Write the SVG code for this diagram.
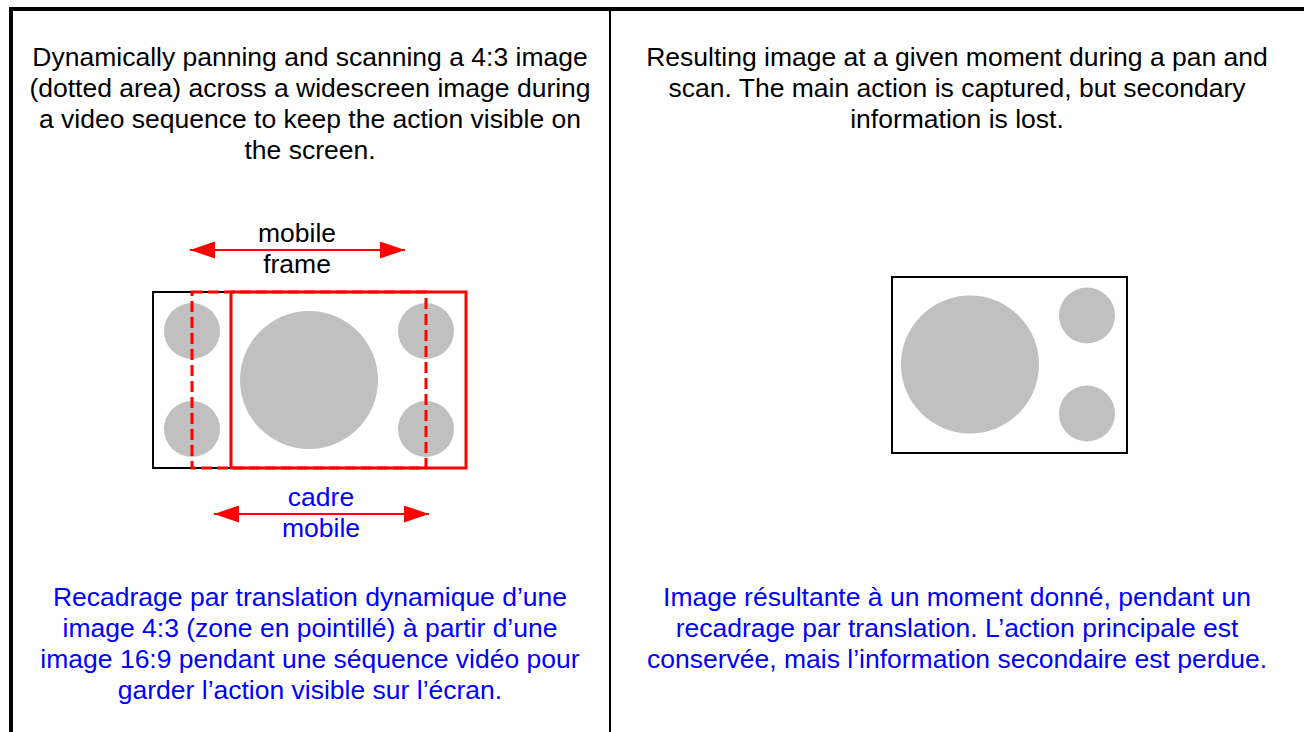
<svg xmlns="http://www.w3.org/2000/svg" width="1304" height="732" viewBox="0 0 1304 732">
<style>
text{font-family:"Liberation Sans",Arial,sans-serif;font-size:26.5px;text-anchor:middle}
.k{fill:#000}
.b{fill:#0000ff}
.circ{fill:#c0c0c0}
.frame{fill:none;stroke:#000;stroke-width:2}
.red{fill:none;stroke:#ff0000;stroke-width:3}
.dash{stroke-dasharray:11,5}
.arr{stroke:#ff0000;stroke-width:2;marker-start:url(#ah);marker-end:url(#ah)}
</style>
<defs>
<marker id="ah" markerUnits="userSpaceOnUse" markerWidth="25" markerHeight="17" refX="25" refY="8.5" orient="auto-start-reverse" viewBox="0 0 25 17">
<path d="M0,0 L25,8.5 L0,17 z" fill="#ff0000"/>
</marker>
</defs>
<rect width="1304" height="732" fill="#fff"/>
<g id="borders">
<line x1="9" y1="9" x2="1304" y2="9" stroke="#000" stroke-width="4"/>
<line x1="11" y1="7" x2="11" y2="732" stroke="#000" stroke-width="4"/>
<line x1="610" y1="9" x2="610" y2="732" stroke="#000" stroke-width="2"/>
</g>
<g id="caption-left-en">
<text class="k" x="310" y="66">Dynamically panning and scanning a 4:3 image</text>
<text class="k" x="310" y="97">(dotted area) across a widescreen image during</text>
<text class="k" x="310" y="128">a video sequence to keep the action visible on</text>
<text class="k" x="310" y="159">the screen.</text>
</g>
<g id="caption-right-en">
<text class="k" x="957" y="66">Resulting image at a given moment during a pan and</text>
<text class="k" x="957" y="97">scan. The main action is captured, but secondary</text>
<text class="k" x="957" y="128">information is lost.</text>
</g>
<g id="widescreen">
<rect class="frame" x="153" y="292" width="313" height="176"/>
<circle class="circ" cx="192" cy="331" r="28"/>
<circle class="circ" cx="192" cy="429" r="28"/>
<circle class="circ" cx="309" cy="380" r="69"/>
<circle class="circ" cx="426" cy="331" r="28"/>
<circle class="circ" cx="426" cy="429" r="28"/>
</g>
<g id="dotted-frame">
<rect class="red dash" x="192" y="292" width="234" height="176"/>
</g>
<g id="mobile-frame">
<rect class="red" x="231" y="292" width="235" height="176"/>
</g>
<g id="connectors">
<line class="arr" x1="190" y1="250" x2="405" y2="250"/>
<line class="arr" x1="214" y1="514" x2="429" y2="514"/>
</g>
<g id="label-mobile-frame">
<text class="k" x="297" y="242">mobile</text>
<text class="k" x="297" y="273">frame</text>
</g>
<g id="label-cadre-mobile">
<text class="b" x="321" y="506">cadre</text>
<text class="b" x="321" y="537">mobile</text>
</g>
<g id="result">
<rect class="frame" x="892" y="277" width="235" height="176"/>
<circle class="circ" cx="970" cy="364.5" r="69"/>
<circle class="circ" cx="1087" cy="315.5" r="28"/>
<circle class="circ" cx="1087" cy="413.5" r="28"/>
</g>
<g id="caption-left-fr">
<text class="b" x="310" y="606">Recadrage par translation dynamique d’une</text>
<text class="b" x="310" y="637">image 4:3 (zone en pointillé) à partir d’une</text>
<text class="b" x="310" y="668">image 16:9 pendant une séquence vidéo pour</text>
<text class="b" x="310" y="699">garder l’action visible sur l’écran.</text>
</g>
<g id="caption-right-fr">
<text class="b" x="957" y="606">Image résultante à un moment donné, pendant un</text>
<text class="b" x="957" y="637">recadrage par translation. L’action principale est</text>
<text class="b" x="957" y="668">conservée, mais l’information secondaire est perdue.</text>
</g>
</svg>
